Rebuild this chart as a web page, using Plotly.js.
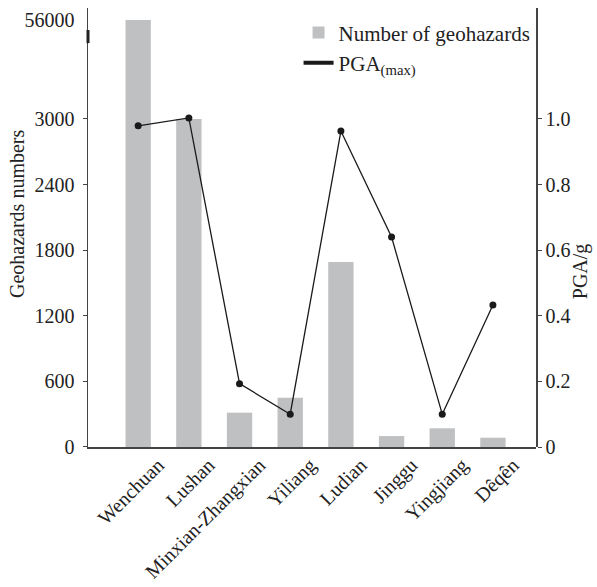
<!DOCTYPE html>
<html>
<head>
<meta charset="utf-8">
<script src="https://cdn.plot.ly/plotly-3.0.1.min.js"></script>
<style>html,body{margin:0;padding:0;background:#fff;}#chart{width:597px;height:587px;}</style>
</head>
<body>
<div id="chart"></div>
<script>
const categories = ["Wenchuan", "Lushan", "Minxian-Zhangxian", "Yiliang", "Ludian", "Jinggu", "Yingjiang", "Dêqên"];
const geohazards = [56000, 3000, 314, 451, 1692, 100, 171, 85];
const pgaMax = [0.979, 1.003, 0.193, 0.100, 0.963, 0.640, 0.100, 0.433];
const leftTickVals = [0, 600, 1200, 1800, 2400, 3000];
const upperTickVals = [56000];
const upperTickText = ["56000"];
const rightTickVals = [0, 0.2, 0.4, 0.6, 0.8, 1.0];
const rightTickText = ["0", "0.2", "0.4", "0.6", "0.8", "1.0"];

const FONT = "Liberation Serif";
const AX = "#444";
const TXT = "#222";
const barColor = "#bfc0c2";
const tf = {family: FONT, size: 20, color: TXT};

const traces = [
  {type: "bar", x: categories, y: geohazards, xaxis: "x", yaxis: "y",
   marker: {color: barColor}, width: 0.5, name: "Number of geohazards", showlegend: true},
  {type: "bar", x: categories, y: geohazards, xaxis: "x", yaxis: "y2",
   marker: {color: barColor}, width: 0.5, showlegend: false},
  {type: "scatter", mode: "lines+markers", x: categories, y: pgaMax, xaxis: "x", yaxis: "y3",
   line: {color: "#1a1a1a", width: 1.3}, marker: {color: "#1a1a1a", size: 7},
   cliponaxis: false, showlegend: false},
  {type: "scatter", mode: "lines", x: [null], y: [null], xaxis: "x", yaxis: "y3",
   line: {color: "#1a1a1a", width: 4}, name: "PGA<sub>(max)</sub>", showlegend: true}
];

const layout = {
  width: 597, height: 587,
  margin: {l: 88, r: 61, t: 8, b: 140},
  paper_bgcolor: "#fff", plot_bgcolor: "rgba(0,0,0,0)",
  font: tf,
  showlegend: true,
  legend: {x: 0.47, y: 0.99, xanchor: "left", yanchor: "top", bgcolor: "rgba(0,0,0,0)",
           font: {family: FONT, size: 21, color: TXT}, tracegroupgap: 0, itemwidth: 30},
  xaxis: {domain: [0, 1], anchor: "y", range: [-0.99, 7.85], showline: true, linecolor: AX, linewidth: 1.5,
          ticks: "", tickangle: -45, showgrid: false, zeroline: false, ticklabelshift: 20,
          ticklabelstandoff: -3,
          tickfont: {family: FONT, size: 20, color: TXT}},
  yaxis: {domain: [0, 0.7472], anchor: "x", range: [0, 3000], tickvals: leftTickVals,
          showline: true, linecolor: AX, linewidth: 1.5, ticks: "outside", ticklen: 4, tickcolor: AX,
          ticklabelstandoff: 4,
          showgrid: false, zeroline: false, tickfont: tf},
  yaxis2: {domain: [0.7472, 1], anchor: "x", range: [3000, 62424], tickvals: upperTickVals,
          ticktext: upperTickText, ticklabelstandoff: 8,
          showline: true, linecolor: AX, linewidth: 1.5, ticks: "", showgrid: false, zeroline: false,
          tickfont: tf},
  yaxis3: {side: "right", anchor: "x", domain: [0, 1], range: [0, 1.338],
          tickvals: rightTickVals, ticktext: rightTickText, showline: true, linecolor: AX, linewidth: 1.5,
          ticks: "outside", ticklen: 4, tickcolor: AX, showgrid: false, zeroline: false,
          tickfont: tf},
  shapes: [
    {type: "line", xref: "paper", yref: "paper", x0: 0, x1: 0, y0: 0.950, y1: 0.920,
     line: {color: "#222", width: 3}}
  ],
  annotations: [
    {text: "Geohazards numbers", xref: "paper", yref: "paper", x: -0.157, y: 0.53,
     xanchor: "center", yanchor: "middle", textangle: -90, showarrow: false,
     font: {family: FONT, size: 20, color: TXT}},
    {text: "PGA/g", xref: "paper", yref: "paper", x: 1.10, y: 0.40,
     xanchor: "center", yanchor: "middle", textangle: -90, showarrow: false,
     font: {family: FONT, size: 20, color: TXT}}
  ]
};

Plotly.newPlot("chart", traces, layout, {displayModeBar: false, staticPlot: true});
</script>
</body>
</html>
